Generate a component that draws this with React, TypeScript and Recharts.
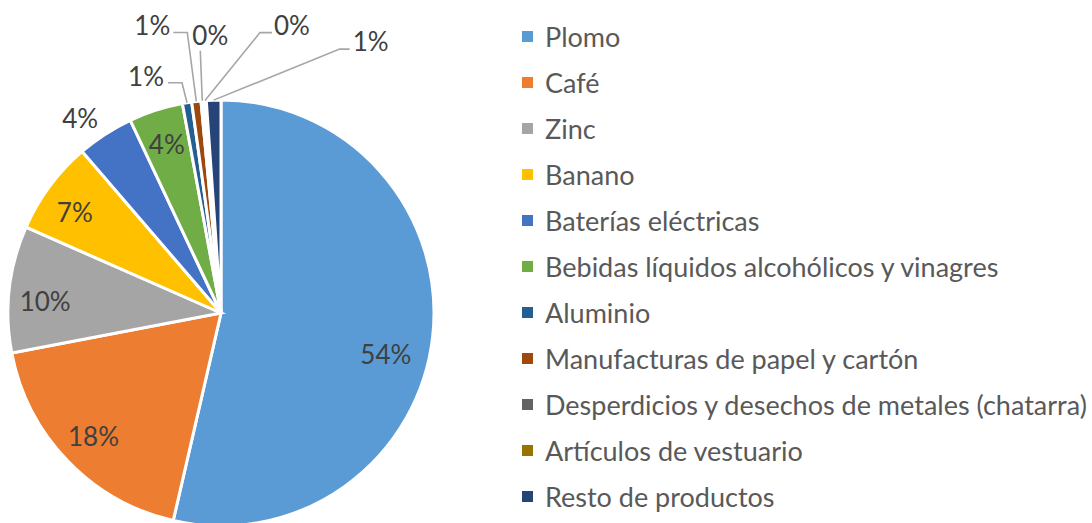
import { PieChart, Pie, Cell, Legend } from 'recharts';

const products = [
  'Plomo',
  'Café',
  'Zinc',
  'Banano',
  'Baterías eléctricas',
  'Bebidas líquidos alcohólicos y vinagres',
  'Aluminio',
  'Manufacturas de papel y cartón',
  'Desperdicios y desechos de metales (chatarra)',
  'Artículos de vestuario',
  'Resto de productos',
];

// participación en %
const shares = [53.6, 18.4, 9.6, 7.1, 4.3, 4.1, 0.7, 0.7, 0.2, 0.2, 1.1];

const colors = [
  '#5B9BD5',
  '#ED7D31',
  '#A5A5A5',
  '#FFC000',
  '#4472C4',
  '#70AD47',
  '#255E91',
  '#9E480E',
  '#636363',
  '#997300',
  '#264478',
];

const data = products.map((name, i) => ({ name, value: shares[i] }));

const FONT = 'Lato, "Open Sans", sans-serif';
const RAD = Math.PI / 180;

// where each data label goes: inside the slice, or outside with a leader line
// (offsets are relative to the point on the rim at the slice's mid angle)
type LabelSpot =
  | { kind: 'in'; r: number; dx?: number; dy?: number }
  | { kind: 'out'; text: [number, number]; path?: [number, number][] };

const labelSpots: LabelSpot[] = [
  { kind: 'in', r: 177, dx: -11, dy: 21 },
  { kind: 'in', r: 177 },
  { kind: 'in', r: 177, dy: 8 },
  { kind: 'in', r: 177, dx: -4, dy: 4 },
  { kind: 'out', text: [-25, -16] },
  { kind: 'in', r: 177 },
  { kind: 'out', text: [-41, -27], path: [[-5, -20], [-19, -20]] },
  { kind: 'out', text: [-44, -76], path: [[-9, -69], [-23, -69]] },
  { kind: 'out', text: [8, -66], path: [[-2, -50]] },
  { kind: 'out', text: [87, -76], path: [[55, -68], [67, -68]] },
  { kind: 'out', text: [157, -59], path: [[126, -51], [136, -51]] },
];

function renderLabel(props: any) {
  const { cx, cy, midAngle, outerRadius, percent, index } = props;
  const spot = labelSpots[index];
  const txt = `${Math.round(percent * 100)}%`;
  const cos = Math.cos(-midAngle * RAD);
  const sin = Math.sin(-midAngle * RAD);

  if (spot.kind === 'in') {
    const x = cx + spot.r * cos + (spot.dx ?? 0);
    const y = cy + spot.r * sin + (spot.dy ?? 0);
    return (
      <text key={`l${index}`} x={x} y={y} fill="#404040" fontSize={26} fontFamily={FONT}
        textAnchor="middle" dominantBaseline="central">
        {txt}
      </text>
    );
  }

  const ax = cx + outerRadius * cos;
  const ay = cy + outerRadius * sin;
  const pts = [[0, 0], ...(spot.path ?? [])];
  return (
    <g key={`l${index}`}>
      {spot.path && (
        <polyline
          points={pts.map(([dx, dy]) => `${ax + dx},${ay + dy}`).join(' ')}
          fill="none"
          stroke="#A6A6A6"
          strokeWidth={1.6}
        />
      )}
      <text x={ax + spot.text[0]} y={ay + spot.text[1]} fill="#404040" fontSize={26}
        fontFamily={FONT} textAnchor="middle" dominantBaseline="central">
        {txt}
      </text>
    </g>
  );
}

// legend in the original series order (recharts would sort it by name)
function renderLegend() {
  return (
    <div style={{ fontFamily: FONT }}>
      {products.map((name, i) => (
        <div key={name} style={{ display: 'flex', alignItems: 'center', height: 46.1 }}>
          <span style={{ width: 11, height: 11, background: colors[i], marginRight: 12, flexShrink: 0 }} />
          <span style={{ color: '#595959', fontSize: 27, whiteSpace: 'nowrap', lineHeight: 1 }}>
            {name}
          </span>
        </div>
      ))}
    </div>
  );
}

export default function App() {
  return (
    <div style={{ position: 'absolute', left: 0, top: 0, width: 1092, height: 523, background: '#fff' }}>
      <PieChart width={1092} height={523} margin={{ top: 0, right: 0, bottom: 0, left: 0 }}>
        <Pie
          data={data}
          dataKey="value"
          nameKey="name"
          cx={221}
          cy={313}
          outerRadius={213}
          startAngle={90}
          endAngle={-270}
          stroke="#fff"
          strokeWidth={3}
          label={renderLabel}
          labelLine={false}
          isAnimationActive={false}
        >
          {data.map((d, i) => (
            <Cell key={d.name} fill={colors[i]} />
          ))}
        </Pie>
        <Legend
          layout="vertical"
          align="right"
          verticalAlign="top"
          content={renderLegend}
          wrapperStyle={{ position: 'absolute', left: 522, top: 13, width: 570 }}
        />
      </PieChart>
    </div>
  );
}
